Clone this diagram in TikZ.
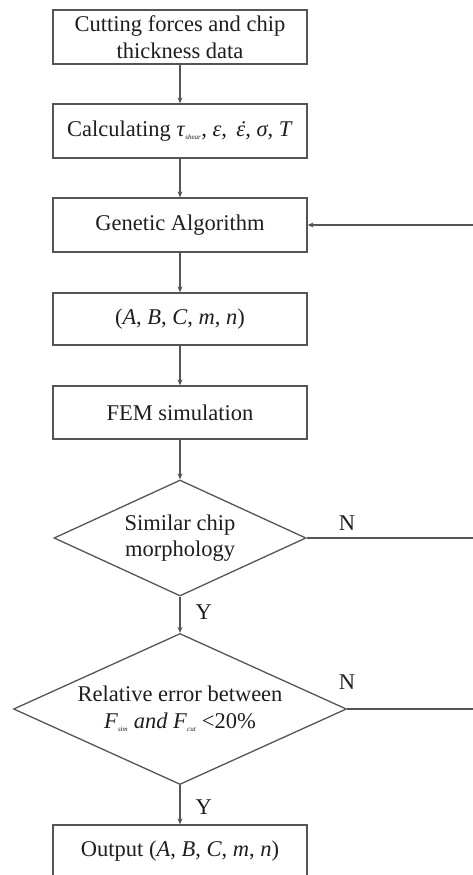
\documentclass[tikz,border=0pt]{standalone}
\usepackage{fontspec}
\setmainfont{Liberation Serif}
\usetikzlibrary{shapes.geometric,arrows.meta}
\definecolor{linegray}{HTML}{555555}
\definecolor{textblack}{HTML}{1E1E1E}
\newcommand{\mysub}[1]{\textsubscript{\fontsize{7}{7}\selectfont\textit{#1}}}
\newcommand{\epsdot}{\ooalign{\textit{ε}\cr\hidewidth\kern3pt\textit{˙}\hidewidth\cr}}
\begin{document}
\begin{tikzpicture}[x=1pt,y=-1pt,
  every node/.style={text=textblack,font=\fontsize{22.5}{26.5}\selectfont},
  procbox/.style={draw=linegray,line width=1.3pt,rectangle,minimum width=254pt,minimum height=54pt,inner sep=0pt,align=center},
  decbox/.style={draw=linegray,line width=1.3pt,diamond,inner sep=0pt,align=center},
  flow/.style={draw=linegray,line width=1.3pt,-{Stealth[length=6pt,width=5pt]}},
  plainline/.style={draw=linegray,line width=1.3pt},
  tag/.style={inner sep=0pt}
]
\useasboundingbox (0,0) rectangle (473,875);
\clip (0,0) rectangle (473,875);
\fill[white] (0,0) rectangle (473,875);

\node[procbox] (b1) at (180,37) {Cutting forces and chip\\thickness data};
\node[procbox] (b2) at (180,131) {Calculating \textit{τ}\mysub{shear}, \textit{ε}, \,\epsdot, \textit{σ}, \textit{T}};
\node[procbox] (b3) at (180,225) {Genetic Algorithm};
\node[procbox,minimum height=52pt] (b4) at (180,319) {(\textit{A}, \textit{B}, \textit{C}, \textit{m}, \textit{n})};
\node[procbox,minimum height=53pt] (b5) at (180,412.5) {FEM simulation};
\node[decbox,minimum width=252pt,minimum height=116pt,aspect=2.17] (d1) at (180,538) {Similar chip\\morphology};
\node[decbox,minimum width=333pt,minimum height=151pt,aspect=2.2] (d2) at (180,709) {Relative error between\\\textit{F}\mysub{sim} \textit{and F}\mysub{cut} <20\%};
\node[procbox,minimum height=52pt] (b6) at (180,851) {Output (\textit{A}, \textit{B}, \textit{C}, \textit{m}, \textit{n})};

\coordinate (r1) at (480,538);
\coordinate (r2) at (480,709);
\coordinate (r0) at (480,225);

\draw[flow] (b1) -- (b2);
\draw[flow] (b2) -- (b3);
\draw[flow] (b3) -- (b4);
\draw[flow] (b4) -- (b5);
\draw[flow] (b5) -- (d1);
\draw[flow] (d1) -- node[tag,right=15pt,yshift=3pt] (y1) {Y} (d2);
\draw[flow] (d2) -- node[tag,right=15pt,yshift=-2pt] (y2) {Y} (b6);
\draw[plainline] (d1.east) -- (r1);
\draw[plainline] (d2.east) -- (r2);
\draw[flow] (r2) -- (r0) -- (b3.east);

\node[tag] (n1) at (347,523) {N};
\node[tag] (n2) at (347,682) {N};
\end{tikzpicture}
\end{document}
